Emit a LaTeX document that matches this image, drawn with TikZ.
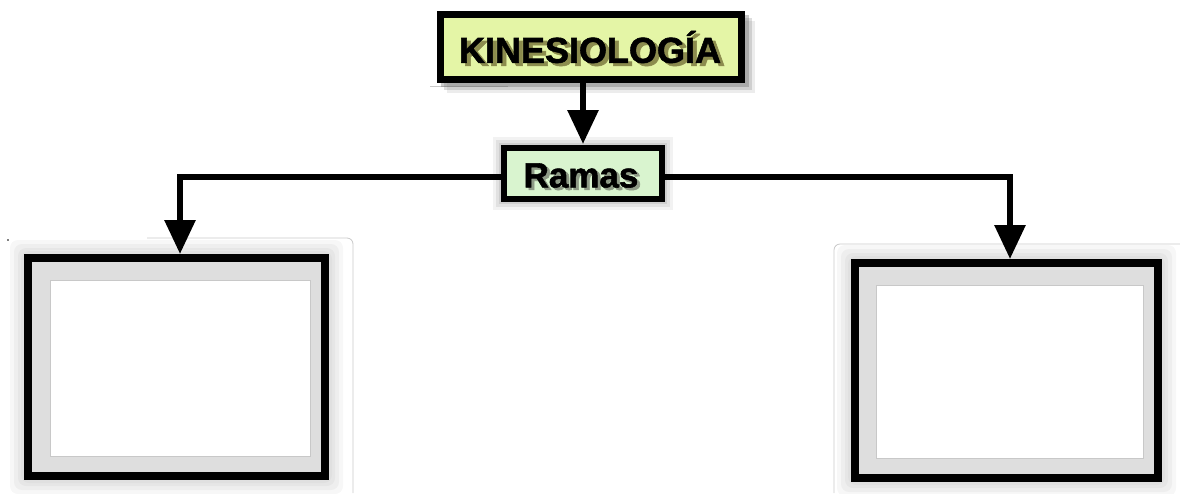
\documentclass[tikz,border=0pt]{standalone}
\usepackage{fontspec}
\setmainfont{Liberation Sans}
\newfontfamily\heavyfont[FakeBold=1.6]{Liberation Sans Bold}
\usetikzlibrary{arrows.meta}
\definecolor{kinfill}{HTML}{E4F5A6}
\definecolor{ramfill}{HTML}{D9F4CF}
\definecolor{kinshadow}{HTML}{8C8C4E}
\definecolor{ramshadow}{HTML}{8E9A86}
\definecolor{halo}{HTML}{DEDEDE}
\definecolor{thin}{HTML}{C8C8C8}
\tikzset{
  titlebox/.style={draw=black, line width=7pt, fill=kinfill, minimum width=301pt, minimum height=65pt, inner sep=0pt},
  subbox/.style={draw=black, line width=6pt, fill=ramfill, minimum width=158pt, minimum height=51pt, inner sep=0pt},
  bigbox/.style={draw=black, line width=8pt, inner sep=0pt},
  conn/.style={line width=6pt, -{Triangle[width=30pt,length=34pt]}},
  plain/.style={line width=6pt},
  thinline/.style={draw=thin, line width=0.8pt},
  inner/.style={fill=white, draw=thin, line width=0.8pt}
}
\begin{document}
\begin{tikzpicture}[x=1pt,y=-1pt]
\useasboundingbox (0,0) rectangle (1180,493);
% thin frames
\draw[thinline, rounded corners=6pt] (147,238) -- (353,238) -- (353,493);
\fill[thin] (8,240) circle (0.8pt);
\draw[thinline, rounded corners=6pt] (834,493) -- (834,244) -- (1180,244);
\draw[thinline] (430,86) -- (508,86);
% halos for big boxes
\foreach \d/\o in {14/0.25,10/0.35,6/0.5,3/0.7} {
  \fill[halo, opacity=\o, rounded corners=8pt] (24-\d,254-\d) rectangle (329+\d,480+\d);
  \fill[halo, opacity=\o, rounded corners=8pt] (851-\d,259-\d) rectangle (1162+\d,482+\d);
}
% title shadow
\foreach \d/\o in {10/0.12,7/0.22,4/0.35} {
  \fill[black!60, opacity=\o] (441+\d-4,15+\d-4) rectangle (745+\d,83+\d);
}
\foreach \d/\o in {8/0.1,5/0.15,2/0.2} {
  \fill[black!50, opacity=\o] (501-\d,145-\d) rectangle (665+\d,202+\d);
}
% nodes
\node[titlebox] (kin) at (591,47) {};
\node[text=kinshadow, font=\heavyfont\fontsize{36}{40}\selectfont] at (594,50) {KINESIOLOGÍA};
\node[font=\heavyfont\fontsize{36}{40}\selectfont] (kint) at (590,47) {KINESIOLOGÍA};
\node[subbox] (ram) at (583,173.5) {};
\node[text=ramshadow, font=\heavyfont\fontsize{35}{38}\selectfont] at (584,178) {Ramas};
\node[font=\heavyfont\fontsize{35}{38}\selectfont] (ramt) at (581,175.5) {Ramas};
\fill[halo] (28,258) rectangle (325,476);
\node[bigbox, minimum width=297pt, minimum height=218pt] (left) at (176.5,367) {};
\fill[halo] (855,263) rectangle (1158,478);
\node[bigbox, minimum width=303pt, minimum height=215pt] (right) at (1006.5,370.5) {};
\node[inner, minimum width=260pt, minimum height=176pt] (lin) at (180,368) {};
\node[inner, minimum width=267pt, minimum height=173pt] (rin) at (1009.5,371.5) {};
% connectors
\coordinate (lc) at (180,177);
\coordinate (rc) at (1010,177);
\draw[conn] (ram.north |- kin.south) -- ([yshift=1pt]ram.north);
\draw[plain] ([yshift=-3.5pt]ram.west) -- (lc);
\draw[conn] ([yshift=3pt]lc) -- (lc |- left.north);
\draw[plain] ([yshift=-3.5pt]ram.east) -- (rc);
\draw[conn] ([yshift=3pt]rc) -- (rc |- right.north);
\end{tikzpicture}
\end{document}
